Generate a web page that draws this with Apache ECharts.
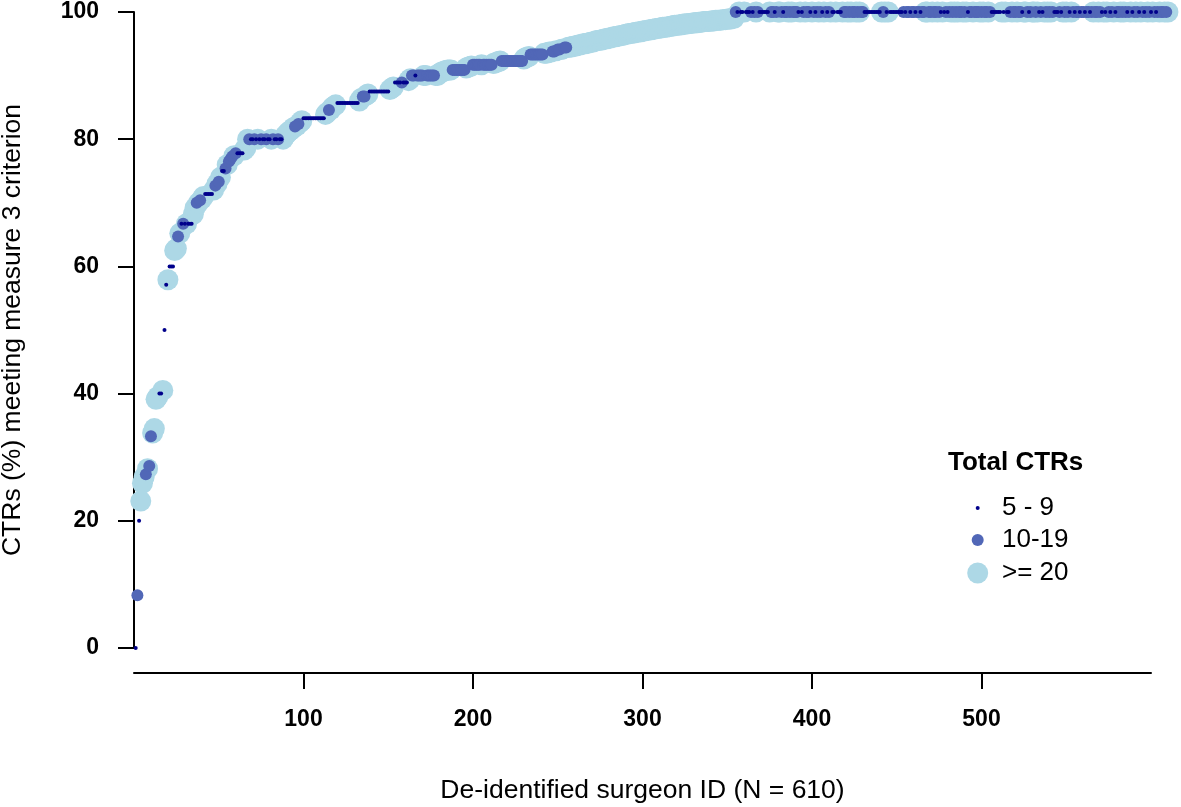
<!DOCTYPE html>
<html>
<head>
<meta charset="utf-8">
<script src="https://cdn.jsdelivr.net/npm/echarts@6/dist/echarts.min.js"></script>
<style>
html,body{margin:0;padding:0;background:#fff;}
#chart{width:1181px;height:807px;}
</style>
</head>
<body>
<div id="chart"></div>
<script>
// ---------------- DATA ----------------
// Percentage of CTRs meeting measure 3 criterion, surgeons ranked 1..610
const pctMet = [
  0, 8.3, 20, 23.1, 25.9, 26.9, 27.3, 28.2, 28.6, 33.3,
  33.8, 34.5, 39.1, 39.5, 40, 40, 40.5, 50, 57.1, 57.9,
  60, 60, 60, 62.5, 62.8, 64.7, 65.2, 66.7, 66.7, 66.7,
  66.7, 66.7, 66.7, 66.7, 68.2, 69.2, 70, 70, 70.4, 70.6,
  71, 71.4, 71.4, 71.4, 71.4, 71.4, 72, 72.7, 73, 73.3,
  74, 75, 75, 75.4, 76, 76.5, 76.9, 77.3, 77.4, 77.8,
  77.8, 77.8, 77.8, 77.8, 78.3, 78.6, 80, 80, 80, 80,
  80, 80, 80, 80, 80, 80, 80, 80, 80, 80,
  80, 80, 80, 80, 80, 80, 80, 80, 80.5, 80.8,
  81.1, 81.3, 81.5, 81.8, 82, 82.1, 82.4, 82.6, 82.9, 83.3,
  83.3, 83.3, 83.3, 83.3, 83.3, 83.3, 83.3, 83.3, 83.3, 83.3,
  83.3, 83.3, 83.9, 84.2, 84.6, 84.6, 85, 85.2, 85.4, 85.7,
  85.7, 85.7, 85.7, 85.7, 85.7, 85.7, 85.7, 85.7, 85.7, 85.7,
  85.7, 85.7, 86, 86.4, 86.7, 86.7, 86.9, 87.1, 87.5, 87.5,
  87.5, 87.5, 87.5, 87.5, 87.5, 87.5, 87.5, 87.5, 87.5, 87.5,
  87.8, 88, 88.2, 88.9, 88.9, 88.9, 88.9, 88.9, 88.9, 88.9,
  88.9, 89.2, 89.5, 90, 90, 90, 90, 90, 90, 90,
  90, 90, 90, 90, 90, 90, 90, 90, 90, 90.3,
  90.5, 90.6, 90.7, 90.8, 90.9, 90.9, 90.9, 90.9, 90.9, 90.9,
  90.9, 90.9, 90.9, 90.9, 90.9, 91.2, 91.3, 91.4, 91.5, 91.7,
  91.7, 91.7, 91.7, 91.7, 91.7, 91.7, 91.7, 91.7, 91.7, 91.7,
  91.7, 91.9, 92, 92.1, 92.2, 92.3, 92.3, 92.3, 92.3, 92.3,
  92.3, 92.3, 92.3, 92.3, 92.3, 92.3, 92.3, 92.3, 92.3, 92.6,
  92.8, 92.9, 93, 93.3, 93.3, 93.3, 93.3, 93.3, 93.3, 93.3,
  93.3, 93.5, 93.5, 93.6, 93.7, 93.7, 93.8, 93.8, 93.9, 94.1,
  94.1, 94.1, 94.2, 94.4, 94.4, 94.4,
  94.5, 94.5, 94.6, 94.6, 94.7, 94.8, 94.8, 94.9, 95.0, 95.0,
  95.1, 95.1, 95.2, 95.3, 95.3, 95.4, 95.5, 95.5, 95.6, 95.6,
  95.7, 95.8, 95.8, 95.9, 95.9, 96.0, 96.1, 96.1, 96.2, 96.2,
  96.3, 96.3, 96.4, 96.5, 96.5, 96.6, 96.6, 96.7, 96.7, 96.8,
  96.8, 96.9, 96.9, 97.0, 97.0, 97.1, 97.1, 97.2, 97.2, 97.3,
  97.3, 97.4, 97.4, 97.5, 97.5, 97.6, 97.6, 97.6, 97.7, 97.7,
  97.8, 97.8, 97.9, 97.9, 97.9, 98.0, 98.0, 98.1, 98.1, 98.1,
  98.2, 98.2, 98.2, 98.3, 98.3, 98.3, 98.4, 98.4, 98.4, 98.5,
  98.5, 98.5, 98.5, 98.6, 98.6, 98.6, 98.7, 98.7, 98.7, 98.7,
  98.8, 98.8, 98.8, 98.9, 98.9, 98.9, 99.0, 99.0,
  100, 100, 100, 100, 100, 100, 100, 100, 100, 100, 100, 100, 100, 100, 100, 100,
  100, 100, 100, 100, 100, 100, 100, 100, 100, 100, 100, 100, 100, 100, 100, 100,
  100, 100, 100, 100, 100, 100, 100, 100, 100, 100, 100, 100, 100, 100, 100, 100,
  100, 100, 100, 100, 100, 100, 100, 100, 100, 100, 100, 100, 100, 100, 100, 100,
  100, 100, 100, 100, 100, 100, 100, 100, 100, 100, 100, 100, 100, 100, 100, 100,
  100, 100, 100, 100, 100, 100, 100, 100, 100, 100, 100, 100, 100, 100, 100, 100,
  100, 100, 100, 100, 100, 100, 100, 100, 100, 100, 100, 100, 100, 100, 100, 100,
  100, 100, 100, 100, 100, 100, 100, 100, 100, 100, 100, 100, 100, 100, 100, 100,
  100, 100, 100, 100, 100, 100, 100, 100, 100, 100, 100, 100, 100, 100, 100, 100,
  100, 100, 100, 100, 100, 100, 100, 100, 100, 100, 100, 100, 100, 100, 100, 100,
  100, 100, 100, 100, 100, 100, 100, 100, 100, 100, 100, 100, 100, 100, 100, 100,
  100, 100, 100, 100, 100, 100, 100, 100, 100, 100, 100, 100, 100, 100, 100, 100,
  100, 100, 100, 100, 100, 100, 100, 100, 100, 100, 100, 100, 100, 100, 100, 100,
  100, 100, 100, 100, 100, 100, 100, 100, 100, 100, 100, 100, 100, 100, 100, 100,
  100, 100, 100, 100, 100, 100, 100, 100, 100, 100, 100, 100, 100, 100, 100, 100,
  100, 100, 100, 100, 100, 100, 100, 100, 100, 100, 100, 100, 100, 100, 100, 100
];

// Total CTR group of each ranked surgeon: S = 5-9, M = 10-19, L = >= 20
const ctrGroupSeq = [
  "SMSLLLMLMMLLLLSSLSSLSSSLLML", "SMSLSSS", "LLMLMLL", "SSSSS",
  "LMLMLSSMLMMMLMSSSSLL", "LMSSMSLSMSSMSSLMSSMSSL", "LLLLLLMLMLL",
  "SSSSSSSSSSSSS", "LLMLLLL", "SSSSSSSSSSSSS", "LLMMLL", "SSSSSSSSSSSS",
  "LLL", "SSSSMSSS", "LL", "MMSMMMMLLMMMMMLL", "LLLLLLLL", "MMMMMMMM", "LLLL",
  "MMMMMLMMMMMM", "LLLLL", "MMMMMMMMMMMMM", "LLLL", "MMMMMMMM", "LLLLL", "MMLMMLLMML",
  "LLLLLLLLLL", "LLLLLLLLLL", "LLLLLLLLLL", "LLLLLLLLLL", "LLLLLLLLLL",
  "LLLLLLLLLL", "LLLLLLLLLL", "LLLLLLLLLL", "LLLLLLLLLL", "LLLLLLLL",
  "MSLSSLSSS", "MSMLMSSSSSS", "LMMSMLLMSMMLMLMMM", "SLS", "MLMMSLMSMLMSLMSML",
  "SSLSSS", "LMMLMLMMLMLMM", "SSSSSSSS", "SSLMLSLSS", "SSSSSS",
  "MSMMSMMSMMSMMLLMMLM", "MLMSLSMSMLMLMLMML", "MLSMMLMMMLMLMMLM", "SSSSSSLSLSS",
  "MLMMLMMSLLMSMLLM", "LS", "MSLMLMLM", "SSS", "MSLMLMSL", "MSMMSMMSMMSM", "LMMLM", "SLS",
  "LMSMLSMMLMLMSMLSMLMSLMSMLMSLMSM", "LMMLML"
].join("");

const groupCodes  = ["L", "M", "S"];
const groupNames  = [">= 20", "10-19", "5 - 9"];
const groupColors = ["#ADD8E6", "#5167B7", "#00008B"];
const groupSizes  = [21, 12, 4];

const xTicks = [0, 100, 200, 300, 400, 500, 600];
const yTicks = [0, 20, 40, 60, 80, 100];

// ---------------- BUILD ----------------
const n = Math.min(pctMet.length, ctrGroupSeq.length);
const seriesData = groupCodes.map(() => []);
for (let i = 0; i < n; i++) {
  const k = groupCodes.indexOf(ctrGroupSeq[i]);
  if (k >= 0) seriesData[k].push([i + 1, pctMet[i]]);
}

const FONT = "Liberation Sans, Arial, sans-serif";
const chart = echarts.init(document.getElementById('chart'), null, {renderer: 'canvas'});

// legend: icon centres on one vertical line, texts left-aligned at one x
const legendIconX = 977.7, legendTextX = 1002;
const legendTops = [495, 527, 560]; // for 5-9, 10-19, >=20
const legendOrder = [2, 1, 0];
const legends = legendOrder.map((k, j) => {
  const s = groupSizes[k];
  return {
    data: [{name: groupNames[k], icon: 'circle'}],
    left: legendIconX - s / 2,
    top: legendTops[j],
    orient: 'vertical',
    padding: 0,
    itemWidth: s,
    itemHeight: s,
    selectedMode: false,
    textStyle: {
      fontFamily: FONT, fontSize: 26, color: '#000', lineHeight: 26,
      padding: [0, 0, 0, legendTextX - (legendIconX + s / 2 + 5)]
    }
  };
});

chart.setOption({
  animation: false,
  backgroundColor: '#fff',
  title: {
    text: 'Total CTRs',
    left: 948, top: 450, padding: 0,
    textStyle: {fontFamily: FONT, fontSize: 26, fontWeight: 'bold', color: '#000'}
  },
  legend: legends,
  grid: {left: 134, right: 30, top: 12, bottom: 159, containLabel: false, outerBoundsMode: 'none'},
  xAxis: {
    type: 'value',
    min: xTicks[0], max: xTicks[xTicks.length - 1], interval: 100,
    offset: 25,
    name: 'De-identified surgeon ID (N = 610)',
    nameLocation: 'middle', nameGap: 104,
    nameTextStyle: {fontFamily: FONT, fontSize: 26.5, color: '#000'},
    axisLine: {show: true, onZero: false, lineStyle: {color: '#000', width: 2}},
    axisTick: {show: true, length: 16, lineStyle: {color: '#000', width: 2}},
    axisLabel: {
      show: true, margin: 35, showMinLabel: false, showMaxLabel: false,
      fontFamily: FONT, fontSize: 23, fontWeight: 'bold', color: '#000'
    },
    splitLine: {show: false}
  },
  yAxis: {
    type: 'value',
    min: yTicks[0], max: yTicks[yTicks.length - 1], interval: 20,
    name: 'CTRs (%) meeting measure 3 criterion',
    nameLocation: 'middle', nameGap: 108, nameRotate: 90,
    nameTextStyle: {fontFamily: FONT, fontSize: 26.5, color: '#000'},
    axisLine: {show: true, onZero: false, lineStyle: {color: '#000', width: 2}},
    axisTick: {show: true, length: 16, lineStyle: {color: '#000', width: 2}},
    axisLabel: {margin: 35, fontFamily: FONT, fontSize: 23, fontWeight: 'bold', color: '#000'},
    splitLine: {show: false}
  },
  series: groupCodes.map((c, k) => ({
    type: 'scatter',
    name: groupNames[k],
    data: seriesData[k],
    symbol: 'circle',
    symbolSize: groupSizes[k],
    itemStyle: {color: groupColors[k], opacity: 1},
    clip: false,
    silent: true,
    emphasis: {disabled: true},
    z: 2 + k
  }))
});
</script>
</body>
</html>
